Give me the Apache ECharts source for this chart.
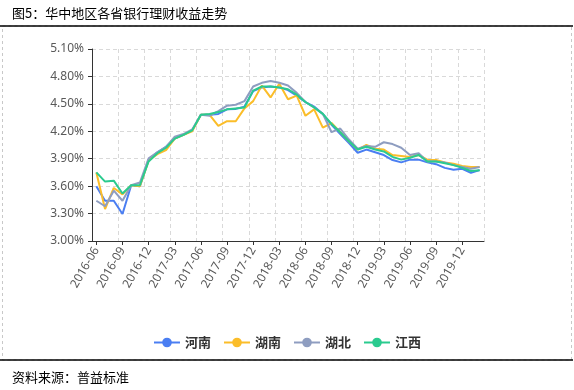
<!DOCTYPE html>
<html><head><meta charset="utf-8">
<script src="https://cdn.jsdelivr.net/npm/echarts@6/dist/echarts.min.js"></script>
<style>html,body{margin:0;padding:0;background:#fff}#c{width:574px;height:390px}</style>
</head><body><div id="c"></div>
<script>
const categories = [
 '2016-06','2016-07','2016-08','2016-09','2016-10','2016-11','2016-12',
 '2017-01','2017-02','2017-03','2017-04','2017-05','2017-06','2017-07','2017-08','2017-09','2017-10','2017-11','2017-12',
 '2018-01','2018-02','2018-03','2018-04','2018-05','2018-06','2018-07','2018-08','2018-09','2018-10','2018-11','2018-12',
 '2019-01','2019-02','2019-03','2019-04','2019-05','2019-06','2019-07','2019-08','2019-09','2019-10','2019-11','2019-12',
 '2020-01','2020-02'];
const henan = [3.60,3.44,3.44,3.295,3.61,3.60,3.89,3.97,4.03,4.12,4.16,4.21,4.38,4.38,4.39,4.44,4.445,4.47,4.64,
 4.68,4.69,4.68,4.65,4.59,4.52,4.47,4.39,4.27,4.17,4.07,3.965,4.00,3.97,3.94,3.885,3.86,3.89,3.89,3.86,3.84,3.80,3.78,3.79,3.745,3.775];
const hunan = [3.75,3.35,3.58,3.51,3.61,3.60,3.88,3.95,3.995,4.12,4.16,4.20,4.38,4.38,4.26,4.31,4.31,4.45,4.53,
 4.70,4.57,4.72,4.55,4.59,4.37,4.44,4.24,4.29,4.19,4.09,4.00,4.05,4.01,4.00,3.94,3.93,3.92,3.94,3.89,3.885,3.86,3.845,3.82,3.81,3.81];
const hubei = [3.44,3.38,3.55,3.44,3.61,3.64,3.905,3.97,4.03,4.14,4.17,4.22,4.38,4.37,4.42,4.48,4.49,4.53,4.69,
 4.73,4.75,4.73,4.70,4.62,4.52,4.46,4.39,4.19,4.23,4.11,4.01,4.04,4.03,4.08,4.06,4.02,3.94,3.96,3.87,3.87,3.86,3.83,3.81,3.79,3.81];
const jiangxi = [3.75,3.65,3.66,3.52,3.61,3.61,3.87,3.96,4.02,4.12,4.16,4.21,4.38,4.39,4.41,4.44,4.45,4.46,4.645,
 4.69,4.69,4.68,4.66,4.60,4.52,4.46,4.39,4.28,4.19,4.09,4.00,4.03,4.00,3.98,3.92,3.89,3.91,3.94,3.87,3.87,3.85,3.83,3.80,3.765,3.775];
const seriesNames = ['河南','湖南','湖北','江西'];
const colors = ['#4a7ef2','#fbbd29','#8e9dc0','#2acb8f'];
const allData = [henan, hunan, hubei, jiangxi];

const chart = echarts.init(document.getElementById('c'));
chart.setOption({
  animation:false,
  color: colors,
  title:[
    {text:'图5：华中地区各省银行理财收益走势', left:7, top:2, textStyle:{fontFamily:'Noto Sans CJK SC', fontSize:13, fontWeight:'normal', color:'#000'}},
    {text:'资料来源：普益标准', left:7, top:366, textStyle:{fontFamily:'Noto Sans CJK SC', fontSize:13, fontWeight:'normal', color:'#000'}}
  ],
  graphic:[
    {type:'rect', shape:{x:2.5,y:26,width:569,height:334}, style:{fill:'none', stroke:'#c8c8c8', lineWidth:1, lineDash:[3,3]}, z:-1},
    {type:'line', shape:{x1:0,y1:26,x2:573,y2:26}, style:{stroke:'#000', lineWidth:1.5}},
    {type:'line', shape:{x1:0,y1:360,x2:573,y2:360}, style:{stroke:'#000', lineWidth:1.5}}
  ],
  grid:{left:92, right:90, top:49, bottom:149, containLabel:false},
  legend:{
    data:seriesNames, top:331, left:'center', itemWidth:26, itemHeight:12, itemGap:12,
    textStyle:{fontFamily:'Noto Sans CJK SC', fontSize:13, fontWeight:'bold', color:'#333'}
  },
  xAxis:{
    type:'category', data:categories, boundaryGap:true,
    axisLine:{lineStyle:{color:'#333', width:1}},
    axisTick:{show:true, alignWithLabel:true, interval:2, length:4, lineStyle:{color:'#333'}},
    axisLabel:{interval:2, rotate:60, margin:7, color:'#595959', fontFamily:'Noto Sans', fontSize:12},
    splitLine:{show:true, interval:2, lineStyle:{color:'#d9d9d9', type:[4,3]}}
  },
  yAxis:{
    type:'value', min:3.0, max:5.1, interval:0.3,
    axisLine:{show:true, lineStyle:{color:'#333', width:1}},
    axisTick:{show:true, length:4, lineStyle:{color:'#333'}},
    axisLabel:{formatter:v=>v.toFixed(2)+'%', color:'#595959', fontFamily:'Noto Sans', fontSize:12, margin:8},
    splitLine:{show:true, lineStyle:{color:'#d9d9d9', type:[4,3]}}
  },
  series: seriesNames.map((n,i)=>({
    name:n, type:'line', data:allData[i], symbol:'circle', showSymbol:false, symbolSize:8,
    lineStyle:{width:2, color:colors[i]}, itemStyle:{color:colors[i]}
  }))
});
</script></body></html>
